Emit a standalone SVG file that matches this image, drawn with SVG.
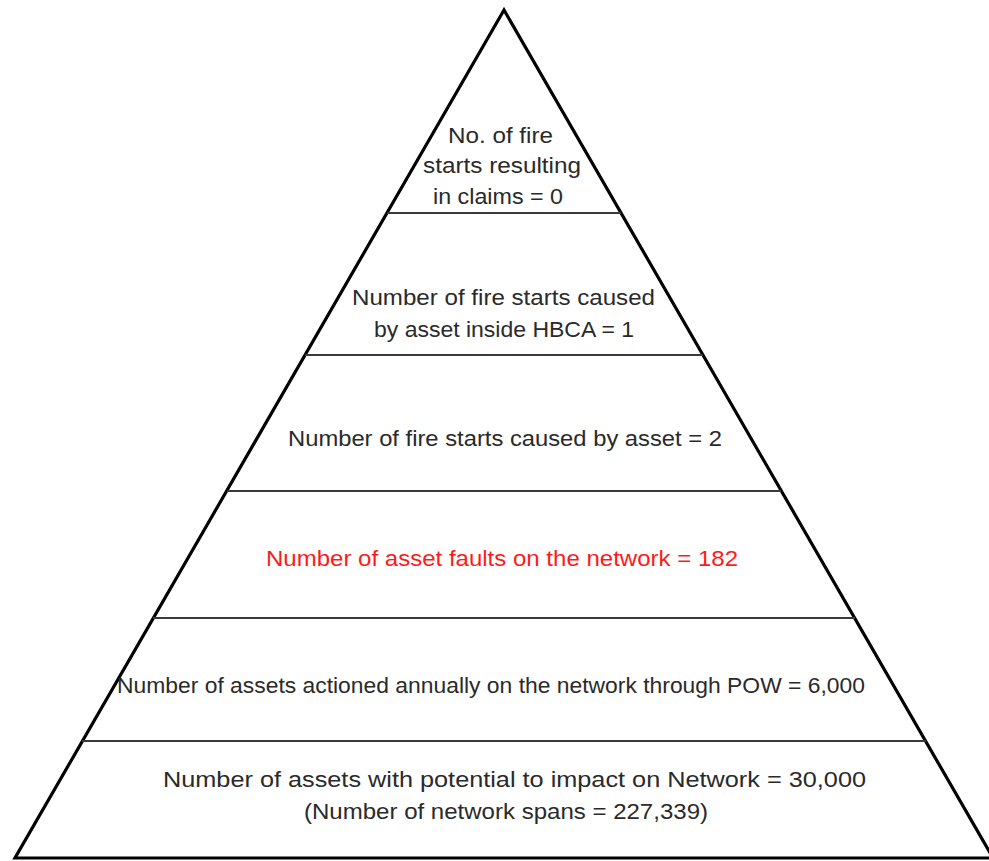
<svg xmlns="http://www.w3.org/2000/svg" width="989" height="861" viewBox="0 0 989 861">
  <style>
    .tri { fill: #ffffff; stroke: #000000; stroke-width: 3.2; stroke-linejoin: miter; }
    .div { stroke: #3a3a3a; stroke-width: 1.8; fill: none; }
    .t { font-family: "Liberation Sans", Arial, sans-serif; font-size: 22px; fill: #2a2a2a; }
    .red { fill: #ff1a1a; }
  </style>
  <rect x="0" y="0" width="989" height="861" fill="#ffffff"/>
  <g id="pyramid">
    <polygon class="tri" points="504,10 15,858 993,858"/>
  </g>
  <g id="connectors">
    <line class="div" x1="387" y1="213" x2="621" y2="213"/>
    <line class="div" x1="305" y1="355" x2="703" y2="355"/>
    <line class="div" x1="227" y1="491" x2="781" y2="491"/>
    <line class="div" x1="153" y1="618" x2="855" y2="618"/>
    <line class="div" x1="82" y1="741" x2="926" y2="741"/>
  </g>
  <g id="tier1">
    <text class="t" x="448" y="143" textLength="105" lengthAdjust="spacingAndGlyphs">No. of fire</text>
    <text class="t" x="423" y="173" textLength="158" lengthAdjust="spacingAndGlyphs">starts resulting</text>
    <text class="t" x="433" y="204" textLength="130" lengthAdjust="spacingAndGlyphs">in claims = 0</text>
  </g>
  <g id="tier2">
    <text class="t" x="352" y="305" textLength="303" lengthAdjust="spacingAndGlyphs">Number of fire starts caused</text>
    <text class="t" x="374" y="337" textLength="260" lengthAdjust="spacingAndGlyphs">by asset inside HBCA = 1</text>
  </g>
  <g id="tier3">
    <text class="t" x="288" y="446" textLength="434" lengthAdjust="spacingAndGlyphs">Number of fire starts caused by asset = 2</text>
  </g>
  <g id="tier4">
    <text class="t red" x="266" y="566" textLength="472" lengthAdjust="spacingAndGlyphs">Number of asset faults on the network = 182</text>
  </g>
  <g id="tier5">
    <text class="t" x="117" y="693" textLength="748" lengthAdjust="spacingAndGlyphs">Number of assets actioned annually on the network through POW = 6,000</text>
  </g>
  <g id="tier6">
    <text class="t" x="163" y="787" textLength="703" lengthAdjust="spacingAndGlyphs">Number of assets with potential to impact on Network = 30,000</text>
    <text class="t" x="304" y="819" textLength="404" lengthAdjust="spacingAndGlyphs">(Number of network spans = 227,339)</text>
  </g>
</svg>
